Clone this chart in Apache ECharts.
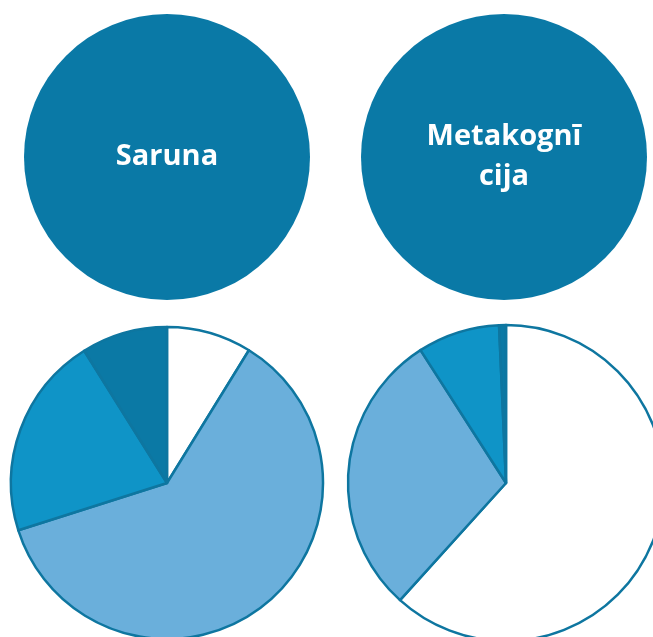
<!DOCTYPE html>
<html>
<head>
<meta charset="utf-8">
<style>
  html, body { margin: 0; padding: 0; background: #ffffff; }
  #chart { width: 653px; height: 637px; }
</style>
<script src="https://cdn.jsdelivr.net/npm/echarts@6/dist/echarts.min.js"></script>
</head>
<body>
<div id="chart"></div>
<script>
const topLabels = ["Saruna", "Metakognī\ncija"];
const sliceNames = ["1", "2", "3", "4"];
const sarunaValues = [8.8, 61.3, 21.0, 8.9];
const metakognicijaValues = [61.7, 29.2, 8.4, 0.7];

const sliceColors = ["#ffffff", "#6aafdb", "#0f94c7", "#0b79a5"];
const circleColor = "#0a79a6";
const edgeColor = "#0e76a0";

function topCircle(label, center, padTop) {
  return {
    type: "pie",
    silent: true,
    center: center,
    radius: 143,
    data: [{ value: 1, name: label }],
    itemStyle: { color: circleColor },
    label: {
      position: "center",
      color: "#ffffff",
      fontFamily: "Open Sans",
      fontWeight: "bold",
      fontSize: 29,
      lineHeight: 40,
      padding: [padTop, 0, 0, 0],
      formatter: "{b}",
    },
    labelLine: { show: false },
    emphasis: { disabled: true },
  };
}

function slicePie(values, center, radius) {
  return {
    type: "pie",
    silent: true,
    center: center,
    radius: radius,
    startAngle: 90,
    clockwise: true,
    data: values.map((v, i) => ({
      value: v,
      name: sliceNames[i],
      itemStyle: { color: sliceColors[i] },
    })),
    itemStyle: { borderColor: edgeColor, borderWidth: 2.5 },
    label: { show: false },
    labelLine: { show: false },
    emphasis: { disabled: true },
  };
}

const chart = echarts.init(document.getElementById("chart"));
chart.setOption({
  animation: false,
  backgroundColor: "#ffffff",
  series: [
    topCircle(topLabels[0], [167, 157], 4),
    topCircle(topLabels[1], [504, 157], 4),
    slicePie(sarunaValues, [167, 483], 156),
    slicePie(metakognicijaValues, [506, 483], 158),
  ],
});
</script>
</body>
</html>
